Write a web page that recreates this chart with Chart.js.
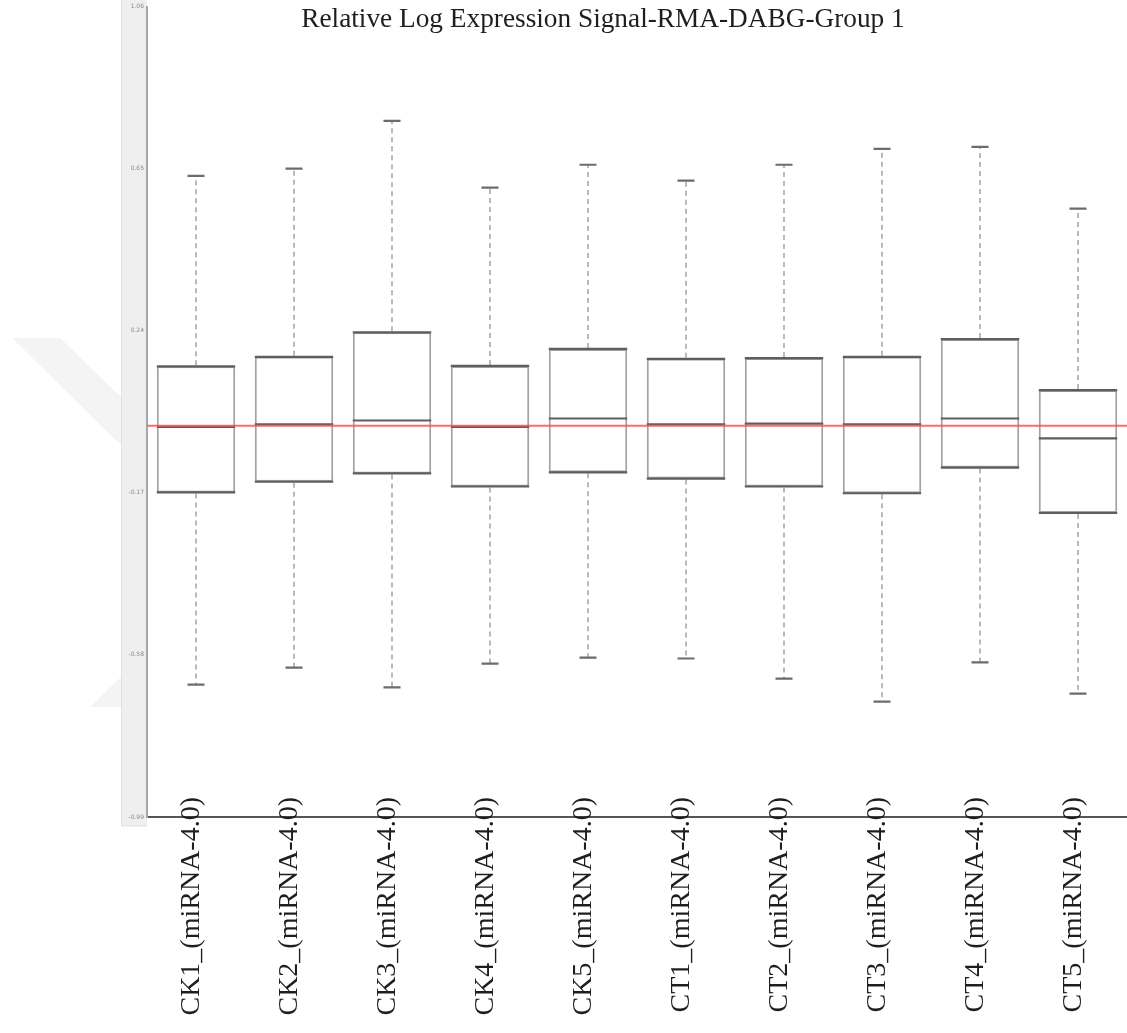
<!DOCTYPE html>
<html>
<head>
<meta charset="utf-8">
<script src="https://cdn.jsdelivr.net/npm/chart.js@4/dist/chart.umd.min.js"></script>
<style>
  html, body { margin: 0; padding: 0; background: #ffffff; }
  #wrap { width: 1127px; height: 1033px; position: relative; }
</style>
</head>
<body>
<div id="wrap"><canvas id="rle" width="1127" height="1033"></canvas></div>
<script>
// Sample arrays (miRNA-4.0 chips)
const categories = [
  'CK1_(miRNA-4.0)', 'CK2_(miRNA-4.0)', 'CK3_(miRNA-4.0)', 'CK4_(miRNA-4.0)', 'CK5_(miRNA-4.0)',
  'CT1_(miRNA-4.0)', 'CT2_(miRNA-4.0)', 'CT3_(miRNA-4.0)', 'CT4_(miRNA-4.0)', 'CT5_(miRNA-4.0)'
];
// Relative log expression summary per sample
const whiskerHigh   = [0.632, 0.650, 0.771, 0.602, 0.660, 0.620, 0.660, 0.700, 0.705, 0.549];
const upperQuartile = [0.150, 0.174, 0.236, 0.151, 0.194, 0.169, 0.171, 0.174, 0.219, 0.090];
const medians       = [-0.003, 0.003, 0.013, -0.003, 0.018, 0.003, 0.005, 0.003, 0.018, -0.032];
const lowerQuartile = [-0.169, -0.142, -0.121, -0.154, -0.118, -0.134, -0.154, -0.171, -0.106, -0.221];
const whiskerLow    = [-0.655, -0.612, -0.662, -0.602, -0.587, -0.589, -0.640, -0.698, -0.599, -0.678];
// Y axis tick values
const yTickValues = [-0.99, -0.58, -0.17, 0.24, 0.65, 1.06];
const referenceLevel = 0;
const chartTitle = 'Relative Log Expression Signal-RMA-DABG-Group 1';
const serifFont = '"Liberation Serif", "Times New Roman", serif';

// Page background, faint watermark and the grey axis strip
const backdrop = {
  id: 'backdrop',
  beforeDraw(chart) {
    const ctx = chart.ctx;
    const area = chart.chartArea;
    ctx.save();
    ctx.fillStyle = '#ffffff';
    ctx.fillRect(0, 0, chart.width, chart.height);
    ctx.fillStyle = '#f4f4f4';
    ctx.beginPath();
    ctx.moveTo(12, 338); ctx.lineTo(60, 338); ctx.lineTo(122, 398); ctx.lineTo(122, 446);
    ctx.closePath(); ctx.fill();
    ctx.beginPath();
    ctx.moveTo(90, 707); ctx.lineTo(122, 676); ctx.lineTo(122, 707);
    ctx.closePath(); ctx.fill();
    ctx.fillStyle = '#efefef';
    ctx.fillRect(121, 0, area.left - 121, area.bottom + 9);
    ctx.strokeStyle = '#e0e0e0';
    ctx.lineWidth = 1;
    ctx.beginPath();
    ctx.moveTo(121.5, 0); ctx.lineTo(121.5, area.bottom + 9);
    ctx.lineTo(area.left, area.bottom + 9);
    ctx.stroke();
    ctx.restore();
  }
};

// Whiskers, caps, quartile/median lines and the zero reference line
const boxDetails = {
  id: 'boxDetails',
  afterDatasetsDraw(chart) {
    const ctx = chart.ctx;
    const xs = chart.scales.x, ys = chart.scales.y;
    const meta = chart.getDatasetMeta(0);
    const area = chart.chartArea;
    ctx.save();
    categories.forEach((c, i) => {
      const x = xs.getPixelForValue(i);
      const half = meta.data[i].width / 2;
      const yHi = ys.getPixelForValue(whiskerHigh[i]);
      const yQ3 = ys.getPixelForValue(upperQuartile[i]);
      const yMed = ys.getPixelForValue(medians[i]);
      const yQ1 = ys.getPixelForValue(lowerQuartile[i]);
      const yLo = ys.getPixelForValue(whiskerLow[i]);
      // dashed whiskers
      ctx.strokeStyle = '#a9a9a9';
      ctx.lineWidth = 1.6;
      ctx.setLineDash([5, 4]);
      ctx.beginPath();
      ctx.moveTo(x, yQ3 - 1); ctx.lineTo(x, yHi);
      ctx.moveTo(x, yQ1 + 1); ctx.lineTo(x, yLo);
      ctx.stroke();
      ctx.setLineDash([]);
      // caps
      ctx.strokeStyle = '#6c6c6c';
      ctx.lineWidth = 2.2;
      ctx.beginPath();
      ctx.moveTo(x - 8.5, yHi); ctx.lineTo(x + 8.5, yHi);
      ctx.moveTo(x - 8.5, yLo); ctx.lineTo(x + 8.5, yLo);
      ctx.stroke();
      // quartile edges and median
      ctx.strokeStyle = '#5e5e5e';
      ctx.lineWidth = 2.2;
      ctx.beginPath();
      ctx.moveTo(x - half, yQ3); ctx.lineTo(x + half, yQ3);
      ctx.moveTo(x - half, yQ1); ctx.lineTo(x + half, yQ1);
      ctx.moveTo(x - half, yMed); ctx.lineTo(x + half, yMed);
      ctx.stroke();
    });
    // zero reference line
    const y0 = ys.getPixelForValue(referenceLevel);
    ctx.strokeStyle = 'rgba(255, 80, 80, 0.85)';
    ctx.lineWidth = 2;
    ctx.beginPath();
    ctx.moveTo(area.left, y0); ctx.lineTo(chart.width, y0);
    ctx.stroke();
    ctx.restore();
  }
};

// Title over the top of the plot and vertical sample names crossing the axis line
const textLayer = {
  id: 'textLayer',
  afterDraw(chart) {
    const ctx = chart.ctx;
    const xs = chart.scales.x;
    const area = chart.chartArea;
    ctx.save();
    ctx.fillStyle = '#1e1e1e';
    ctx.font = '27.3px ' + serifFont;
    ctx.textAlign = 'center';
    ctx.textBaseline = 'alphabetic';
    ctx.fillText(chartTitle, 603, 27);

    ctx.font = '28px ' + serifFont;
    ctx.textAlign = 'right';
    ctx.textBaseline = 'middle';
    categories.forEach((label, i) => {
      const x = xs.getPixelForValue(i) - 4;
      ctx.save();
      ctx.translate(x, area.bottom - 20);
      ctx.rotate(-Math.PI / 2);
      ctx.fillText(label, 0, 0);
      ctx.restore();
    });
    ctx.restore();
  }
};

new Chart(document.getElementById('rle'), {
  type: 'bar',
  data: {
    labels: categories,
    datasets: [{
      data: categories.map((c, i) => [lowerQuartile[i], upperQuartile[i]]),
      backgroundColor: '#ffffff',
      borderColor: '#a2a2a2',
      borderWidth: 2,
      borderSkipped: false,
      categoryPercentage: 1,
      barPercentage: 0.8
    }]
  },
  options: {
    responsive: false,
    animation: false,
    events: [],
    layout: { padding: { top: 2, right: -3, bottom: 0, left: 0 } },
    plugins: { legend: { display: false }, tooltip: { enabled: false }, title: { display: false } },
    scales: {
      x: {
        type: 'category',
        offset: true,
        grid: { display: false, drawTicks: false },
        border: { display: true, color: '#555555', width: 2 },
        ticks: { display: false },
        afterFit(s) { s.height = 216; }
      },
      y: {
        min: yTickValues[0],
        max: yTickValues[yTickValues.length - 1],
        afterBuildTicks(s) { s.ticks = yTickValues.map(v => ({ value: v })); },
        grid: { display: false, drawTicks: false },
        border: { display: true, color: '#a8a8a8', width: 2 },
        ticks: {
          padding: 3,
          color: '#8a8a8a',
          font: { family: 'DejaVu Sans', size: 6 },
          callback: v => Number(v).toFixed(2)
        },
        afterFit(s) { s.width = 147; }
      }
    }
  },
  plugins: [backdrop, boxDetails, textLayer]
});
</script>
</body>
</html>
